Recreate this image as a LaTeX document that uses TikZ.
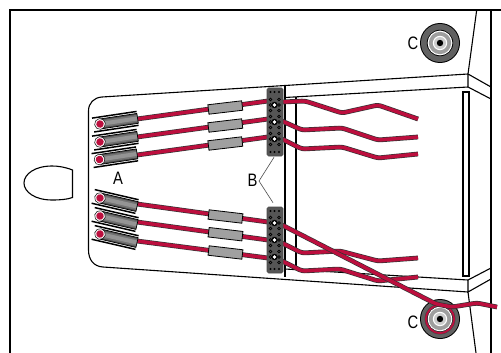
\documentclass[tikz,border=0pt]{standalone}
\usepackage{fontspec}
\usetikzlibrary{calc}
\setmainfont{Liberation Sans}
\definecolor{wirered}{HTML}{BC0F3E}
\definecolor{blockgray}{HTML}{555555}
\definecolor{sleevegray}{HTML}{A0A0A0}
\tikzset{
  frameline/.style={draw=black,line width=2pt},
  panelline/.style={draw=black,line width=1.1pt},
  wireout/.style={draw=black!80,line width=4.8pt,rounded corners=3pt},
  wirein/.style={draw=wirered,line width=3.5pt,rounded corners=3pt},
  sleevebox/.style={draw=black,fill=sleevegray,line width=0.8pt,minimum width=34pt,minimum height=9.5pt,inner sep=0pt},
  termblock/.style={draw=black!70,fill=blockgray,line width=0.6pt,minimum width=16pt,rounded corners=1.5pt,inner sep=0pt},
  letter/.style={inner sep=0pt,font=\fontsize{18}{18}\selectfont},
  leader/.style={draw=black!70,line width=0.6pt}
}
\newcommand{\wirepath}[1]{\draw[wireout] #1; \draw[wirein] #1;}
\newcommand{\holder}[3]{%
  \begin{scope}[shift={(#1,#2)},rotate=#3]
    \draw[black,line width=1.5pt] (-7,-7) -- (38,-7);
    \draw[black,line width=1.5pt] (-7,7) -- (38,7);
    \fill[black!70] (1,-5) rectangle (38,5);
    \fill[black!55] (1,-3.6) rectangle (38,3.6);
    \fill[black!42] (1,-2) rectangle (38,2);
    \draw[black,line width=0.7pt] (1,-5) rectangle (38,5);
    \fill[white,draw=black,line width=0.5pt] (0,0) circle (5.4);
    \fill[wirered] (0,0) circle (3.8);
  \end{scope}}
\newcommand{\termdots}[2]{%
  \foreach \tx in {270.5,274.5,279} {
    \fill[black] (\tx,#1) circle (1.1);
    \fill[black] (\tx,#2) circle (1.1);
  }}
\newcommand{\termstar}[2]{%
  \foreach \ty in {-5.5,0,5.5} {
    \draw[black,line width=0.6pt] (270.5,#2+\ty) circle (1.4);
    \draw[black,line width=0.6pt] (279,#2+\ty) circle (1.4);
  }
  \fill[black] (#1,#2) circle (3.2);
  \fill[white] (#1,#2) circle (1.9);
}
\newcommand{\cring}[2]{%
  \fill[black] (#1,#2) circle (20);
  \fill[black!62] (#1,#2) circle (19);
  \fill[black] (#1,#2) circle (13.2);
  \fill[white] (#1,#2) circle (12.4);
  \fill[black!38] (#1,#2) circle (11.2);
  \fill[white] (#1,#2) circle (7.2);
  \fill[black!20] (#1,#2) circle (6);
  \fill[black] (#1,#2) circle (3.2);
}
\begin{document}
\begin{tikzpicture}[x=1pt,y=-1pt]
\useasboundingbox (0,0) rectangle (501,353);
\fill[white] (0,0) rectangle (501,353);
% frame
\draw[frameline] (10,353) -- (10,10) -- (501,10);
\draw[panelline] (491,10) -- (491,353);
\draw[panelline] (476.7,10) -- (468,74) -- (468,87) -- (491,99);
\draw[panelline] (468,74) -- (491,87);
\draw[panelline] (468,292) -- (476,353);
\draw[panelline] (468,280) -- (468,292) -- (491,279);
\draw[panelline] (468,280) -- (491,268);
% panel
\draw[panelline] (468,74) -- (285,85.5) -- (102,97) .. controls (94,97.5) and (88.5,103) .. (88.5,111) -- (88.5,250) .. controls (88.5,260) and (94,266.5) .. (103,267) -- (468,292);
\draw[panelline] (285,97.5) -- (468,87);
\draw[panelline] (285,269) -- (468,280);
\draw[panelline] (285,85.5) -- (285,277);
\draw[panelline] (296,97) -- (296,270);
\draw[panelline,fill=white] (463,92) rectangle (469,276);
\draw[black,line width=1.6pt] (463,276) -- (469,276);
% oval
\draw[black,line width=1.1pt] (72.5,170) .. controls (65,167) and (58,166) .. (52,166) .. controls (35,166) and (24,174) .. (24,183) .. controls (24,192) and (35,200) .. (52,200) .. controls (60,200) and (67,199.5) .. (72.5,197.5) -- cycle;
% C rings
\cring{440}{43}
\cring{440}{319}
\draw[black!75,line width=2.8pt] (440,319) circle (14);
\draw[wirered,line width=1.8pt] (440,319) circle (14);
% wires, top group
\wirepath{(137,119) -- (268,101)}
\wirepath{(137,137) -- (268,119)}
\wirepath{(137,155) -- (268,137)}
\wirepath{(282,102) -- (305,101) -- (342,113) -- (378,105) -- (418,119)}
\wirepath{(282,121) -- (302,130) -- (342,128) -- (378,140) -- (418,137)}
\wirepath{(282,139) -- (302,149) -- (342,147) -- (378,158) -- (418,154)}
% wires, bottom group
\wirepath{(137,204) -- (268,222)}
\wirepath{(137,222) -- (268,240)}
\wirepath{(137,241) -- (268,258)}
\wirepath{(282,243) -- (302,253) -- (340,251) -- (378,261) -- (418,258)}
\wirepath{(282,261) -- (302,271) -- (340,269) -- (378,281) -- (418,277)}
\wirepath{(282,225) -- (436,304) -- (452,307) -- (477,303) -- (497,307)}
% holders
\holder{100}{124}{8.5}
\holder{100}{142}{8.5}
\holder{99.5}{159.5}{8.5}
\holder{100}{198}{-13}
\holder{100}{216}{-13}
\holder{100}{234}{-13}
% sleeves
\node[sleevebox,rotate=6.7] (s1) at (225.3,107.5) {};
\node[sleevebox,rotate=6.7] (s2) at (225.3,125.5) {};
\node[sleevebox,rotate=6.7] (s3) at (225.3,143.5) {};
\node[sleevebox,rotate=-6.7] (s4) at (225.5,216.5) {};
\node[sleevebox,rotate=-6.7] (s5) at (225.5,234.2) {};
\node[sleevebox,rotate=-6.7] (s6) at (225.5,252.5) {};
% terminal blocks
\node[termblock,minimum height=68pt] (t1) at (275,122) {};
\node[termblock,minimum height=66pt] (t2) at (275,240) {};
\termdots{92}{152}
\termdots{211}{269}
\foreach \sy in {105,122,139} {\termstar{274.5}{\sy}}
\foreach \sy in {223,240,257} {\termstar{274.5}{\sy}}
% labels
\node[letter] (la) at (118,178.5) {\scalebox{0.82}[1]{A}};
\node[letter] (lb) at (252.5,180) {\scalebox{0.82}[1]{B}};
\node[letter] (lc1) at (413,43.5) {\scalebox{0.82}[1]{C}};
\node[letter] (lc2) at (413,322) {\scalebox{0.82}[1]{C}};
\coordinate (bv) at (259,181);
\draw[leader] ($(t1.south)+(-1,1)$) -- (bv) -- ($(t2.north)+(-2,-4)$);
\end{tikzpicture}
\end{document}
